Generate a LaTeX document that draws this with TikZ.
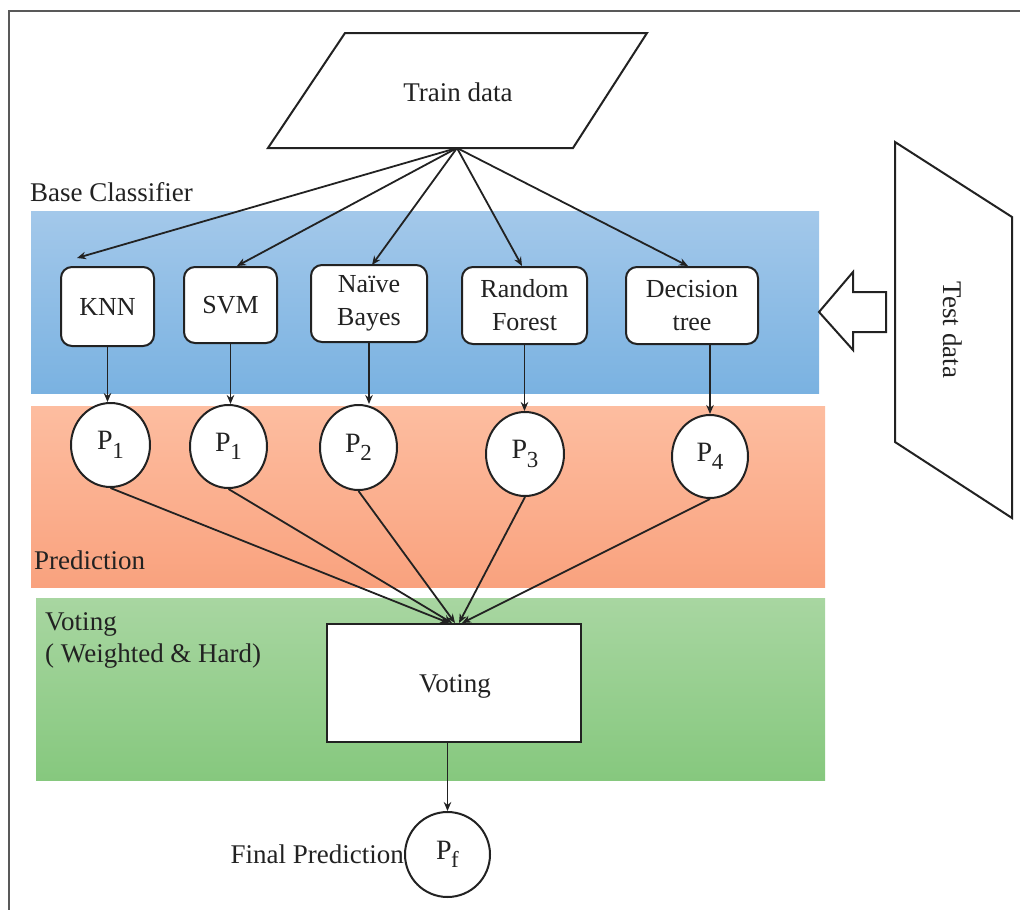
\documentclass[tikz,border=0pt]{standalone}
\usepackage{fontspec}
\setmainfont{Liberation Serif}
\usetikzlibrary{arrows.meta,shapes.geometric}
\definecolor{blueT}{HTML}{A3C8EA}
\definecolor{blueB}{HTML}{7AB2E1}
\definecolor{orT}{HTML}{FDBDA0}
\definecolor{orB}{HTML}{F9A27E}
\definecolor{grT}{HTML}{A8D6A1}
\definecolor{grB}{HTML}{86C87E}
\definecolor{ink}{HTML}{222222}
\newcommand\Psub[1]{P\kern-0.5pt\raisebox{-0.3em}{\scalebox{0.82}{#1}}}
\begin{document}
\begin{tikzpicture}[x=1pt,y=-1pt,
  lbl/.style={font=\fontsize{27}{32}\selectfont, text=ink, inner sep=0pt},
  algo/.style={draw=ink, line width=2pt, fill=white, rounded corners=11pt, align=center, font=\fontsize{26}{33}\selectfont, inner sep=0pt, text=ink},
  pcirc/.style={ellipse, draw=ink, line width=2pt, fill=white, inner sep=0pt, font=\fontsize{28}{30}\selectfont, text=ink},
  conn/.style={line width=1.8pt, draw=ink, -{Stealth[length=9pt,width=7.5pt]}},
  outl/.style={draw=ink, line width=2pt, fill=white},
]
\useasboundingbox (0,0) rectangle (1020,910);
% frame
\draw[line width=2pt, color=black!65] (1020,11) -- (9,11) -- (9,910);

% bands
\shade[top color=blueT, bottom color=blueB] (31,211) rectangle (819,393);
\shade[top color=orT, bottom color=orB] (31,406) rectangle (825,587);
\shade[top color=grT, bottom color=grB] (36,598) rectangle (825,780);

% labels
\node[lbl, anchor=base west] (lbase) at (30,201) {Base Classifier};
\node[lbl, anchor=base west] (lpred) at (34,569) {Prediction};
\node[lbl, anchor=base west] (lvote) at (45,630) {Voting};
\node[lbl, anchor=base west] (lvote2) at (45,662) {( Weighted \& Hard)};

% train data
\draw[outl] (345,33) -- (647,33) -- (573,148) -- (268,148) -- cycle;
\node[lbl, anchor=base] (train) at (458,101) {Train data};
\coordinate (apex) at (457,148);

% test data
\draw[outl] (895,142) -- (1012,217) -- (1012,518) -- (895,442) -- cycle;
\node[lbl, rotate=-90] (test) at (953,330) {Test data};
\draw[outl, line join=miter] (886,292) -- (853,292) -- (853,272) -- (819,312) -- (853,350) -- (853,332) -- (886,332) -- cycle;

% algorithm boxes
\node[algo, minimum width=93pt, minimum height=79pt] (knn) at (107.5,306.5) {KNN};
\node[algo, minimum width=93pt, minimum height=76pt] (svm) at (230.5,305) {SVM};
\node[algo, minimum width=116pt, minimum height=77pt] (nb) at (369,303.5) {Naïve\\Bayes};
\node[algo, minimum width=125pt, minimum height=77pt] (rf) at (524.5,305.5) {Random\\Forest};
\node[algo, minimum width=132pt, minimum height=77pt] (dt) at (692,305.5) {Decision\\tree};

% arrow ends from train data
\coordinate (tknn) at (77,258);
\coordinate (tsvm) at (237,266);
\coordinate (tnb) at (372,265);
\coordinate (trf) at (522,266);
\coordinate (tdt) at (688,266);
\draw[conn] (apex) -- (tknn);
\draw[conn] (apex) -- (tsvm);
\draw[conn] (apex) -- (tnb);
\draw[conn] (apex) -- (trf);
\draw[conn] (apex) -- (tdt);

% prediction circles
\node[pcirc, minimum width=79pt, minimum height=84pt] (p1a) at (110.5,445) {\Psub{1}};
\node[pcirc, minimum width=77pt, minimum height=83pt] (p1b) at (228.5,446.5) {\Psub{1}};
\node[pcirc, minimum width=77pt, minimum height=85pt] (p2) at (358.5,447.5) {\Psub{2}};
\node[pcirc, minimum width=78pt, minimum height=84pt] (p3) at (525,454) {\Psub{3}};
\node[pcirc, minimum width=76pt, minimum height=83pt] (p4) at (710,456.5) {\Psub{4}};

\draw[conn] (knn.south) -- (knn.south |- p1a.north);
\draw[conn] (svm.south) -- (svm.south |- p1b.north);
\draw[conn] (nb.south) -- (nb.south |- p2.north);
\draw[conn] (rf.south) -- (rf.south |- p3.north);
\draw[conn] (dt.south -| p4.north) -- (p4.north);

% voting
\node[draw=ink, line width=2.2pt, fill=white, minimum width=254pt, minimum height=118pt, inner sep=0pt] (vote) at (454,683) {};
\node[lbl, anchor=base] (votetxt) at (455,692) {Voting};
\coordinate (v1) at (449,623);
\coordinate (v2) at (452,623);
\coordinate (v3) at (455,623);
\coordinate (v4) at (459,623);
\coordinate (v5) at (462,623);
\draw[conn] (p1a.south) -- (v1);
\draw[conn] (p1b.south) -- (v2);
\draw[conn] (p2.south) -- (v3);
\draw[conn] (p3.south) -- (v4);
\draw[conn] (p4.south) -- (v5);

% final prediction
\node[pcirc, minimum width=85pt, minimum height=85pt] (pf) at (447.5,854.5) {\Psub{f}};
\draw[conn] (vote.south -| pf.north) -- (pf.north);
\node[lbl, anchor=base east] (lfinal) at (404,863) {Final Prediction};
\end{tikzpicture}
\end{document}
